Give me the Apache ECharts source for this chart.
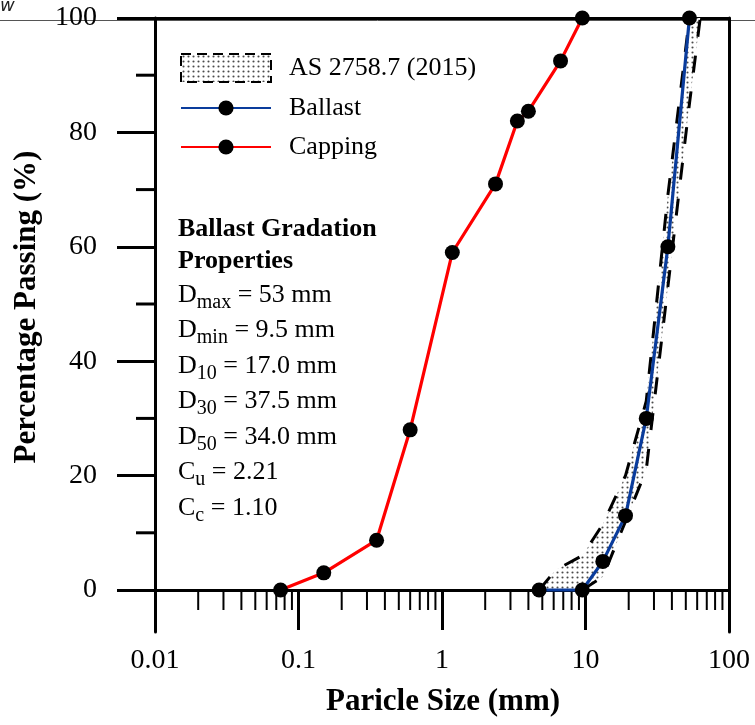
<!DOCTYPE html>
<html><head><meta charset="utf-8">
<script src="https://cdn.jsdelivr.net/npm/echarts@6/dist/echarts.min.js"></script>
<style>html,body{margin:0;padding:0;background:#fff}#c{width:755px;height:725px}</style>
</head><body><div id="c"></div>
<script>
// ---- data ----
const ballastSize = [4.75, 9.5, 13.2, 19.0, 26.5, 37.5, 53.0];
const ballastPass = [0, 0, 5, 13, 30, 60, 100];
const cappingSize = [0.075, 0.15, 0.35, 0.6, 1.18, 2.36, 3.35, 4.0, 6.7, 9.5];
const cappingPass = [0, 3, 8.7, 28, 59, 71, 82, 83.7, 92.5, 100];
const bandFineSize = [4.75, 6.2, 9.5, 13.2, 19.0, 26.5, 37.5, 53.0];
const bandFinePass = [0, 3.5, 6, 11.5, 20, 33, 69, 100];
const bandCoarseSize = [9.5, 13.2, 19.0, 26.5, 37.5, 53.0, 63.0];
const bandCoarsePass = [0, 2.3, 12, 21, 53, 85, 100];
const xTickLabels = ['0.01', '0.1', '1', '10', '100'];
const yMajorTicks = [0, 20, 40, 60, 80, 100];
const yMinorTicks = [10, 30, 50, 70, 90];
const xMinorTicks = [0.02, 0.03, 0.04, 0.05, 0.06, 0.07, 0.08, 0.09,
  0.2, 0.3, 0.4, 0.5, 0.6, 0.7, 0.8, 0.9,
  2, 3, 4, 5, 6, 7, 8, 9,
  20, 30, 40, 50, 60, 70, 80, 90];

const FONT = 'Liberation Serif';
const zip = (a, b) => a.map((v, i) => [v, b[i]]);

// dotted pattern
const pc = document.createElement('canvas');
pc.width = 5; pc.height = 5;
const pctx = pc.getContext('2d');
pctx.fillStyle = '#ffffff'; pctx.fillRect(0, 0, 5, 5);
pctx.fillStyle = '#4a4a4a';
pctx.beginPath(); pctx.arc(2.5, 2.5, 1.05, 0, Math.PI * 2); pctx.fill();
const dotPattern = { image: pc, repeat: 'repeat' };

const chart = echarts.init(document.getElementById('c'), null, { renderer: 'canvas' });

const yMin = -7.343;
const xMin = 0.01;
const axisBlack = { color: '#000', width: 3 };

const option = {
  animation: false,
  backgroundColor: '#fff',
  textStyle: { fontFamily: FONT },
  grid: { left: 155, right: 26, top: 18, bottom: 93, containLabel: false, outerBoundsMode: 'none' },
  xAxis: [
    {
      type: 'log', logBase: 10, min: xMin, max: 100, position: 'bottom',
      axisLine: { show: true, onZero: true, onZeroAxisIndex: 0, lineStyle: axisBlack },
      axisTick: { show: true, length: 40, inside: false, lineStyle: { color: '#000', width: 3 } },
      axisLabel: {
        show: true, margin: 15, color: '#000', fontFamily: FONT, fontSize: 28,
        showMinLabel: true, showMaxLabel: true, hideOverlap: false,
        formatter: (v, i) => xTickLabels[i] !== undefined ? xTickLabels[i] : String(v)
      },
      splitLine: { show: false }, minorTick: { show: false }
    },
    {
      type: 'log', logBase: 10, min: xMin, max: 100, position: 'top',
      axisLine: { show: true, onZero: false, lineStyle: axisBlack },
      axisTick: { show: false }, axisLabel: { show: false }, splitLine: { show: false }
    }
  ],
  yAxis: [
    {
      type: 'value', min: yMin, max: 100, position: 'left', offset: 0,
      axisLine: { show: true, onZero: false, lineStyle: axisBlack },
      axisTick: { show: true, length: 38, inside: false, customValues: yMajorTicks, lineStyle: { color: '#000', width: 3 } },
      axisLabel: { show: true, margin: 58, color: '#000', fontFamily: FONT, fontSize: 28, customValues: yMajorTicks },
      splitLine: { show: false }
    },
    {
      type: 'value', min: yMin, max: 100, position: 'right', offset: 0,
      axisLine: { show: true, onZero: false, lineStyle: axisBlack },
      axisTick: { show: false }, axisLabel: { show: false }, splitLine: { show: false }
    }
  ],
  legend: [
    {
      left: 180, top: 53, padding: 0, itemWidth: 90, itemHeight: 28, selectedMode: false,
      textStyle: { fontFamily: FONT, fontSize: 26, color: '#000', lineHeight: 26, padding: [0, 0, 0, 13] },
      data: [{
        name: 'AS 2758.7 (2015)', icon: 'rect',
        itemStyle: { color: dotPattern, borderColor: '#000', borderWidth: 2, borderType: [10, 6] }
      }]
    },
    {
      left: 180, top: 95, padding: 0, itemWidth: 90, itemHeight: 19, selectedMode: false,
      textStyle: { fontFamily: FONT, fontSize: 26, color: '#000', lineHeight: 26, padding: [0, 0, 0, 13] },
      data: ['Ballast']
    },
    {
      left: 180, top: 134, padding: 0, itemWidth: 90, itemHeight: 19, selectedMode: false,
      textStyle: { fontFamily: FONT, fontSize: 26, color: '#000', lineHeight: 26, padding: [0, 0, 0, 13] },
      data: ['Capping']
    }
  ],
  series: [
    {
      name: 'AS 2758.7 (2015)', type: 'custom', xAxisIndex: 0, yAxisIndex: 0, z: 1,
      itemStyle: { color: dotPattern, borderColor: '#000', borderWidth: 2, borderType: [10, 6] },
      data: [[bandFineSize[0], bandFinePass[0]]],
      renderItem: function (params, api) {
        const pts = [];
        for (let i = 0; i < bandFineSize.length; i++) pts.push(api.coord([bandFineSize[i], bandFinePass[i]]));
        for (let i = bandCoarseSize.length - 1; i >= 0; i--) pts.push(api.coord([bandCoarseSize[i], bandCoarsePass[i]]));
        return { type: 'polygon', shape: { points: pts }, style: { fill: dotPattern, stroke: null } };
      }
    },
    {
      name: 'AS fine limit', type: 'line', z: 2, symbol: 'none', clip: false,
      data: zip(bandFineSize, bandFinePass),
      lineStyle: { color: '#000', width: 3, type: [17, 19] }
    },
    {
      name: 'AS coarse limit', type: 'line', z: 2, symbol: 'none', clip: false,
      data: zip(bandCoarseSize, bandCoarsePass),
      lineStyle: { color: '#000', width: 3, type: [17, 19] }
    },
    {
      name: 'x minor ticks', type: 'custom', xAxisIndex: 0, yAxisIndex: 0, z: 3, clip: false,
      data: xMinorTicks.map(v => [v]),
      renderItem: function (params, api) {
        const p = api.coord([api.value(0), 0]);
        return { type: 'line', shape: { x1: p[0], y1: p[1], x2: p[0], y2: p[1] + 20 }, style: { stroke: '#000', lineWidth: 2 } };
      }
    },
    {
      name: 'y minor ticks', type: 'custom', xAxisIndex: 0, yAxisIndex: 0, z: 3, clip: false,
      data: yMinorTicks.map(v => [xMin, v]),
      renderItem: function (params, api) {
        const p = api.coord([xMin, api.value(1)]);
        return { type: 'line', shape: { x1: p[0], y1: p[1], x2: p[0] - 19, y2: p[1] }, style: { stroke: '#000', lineWidth: 3 } };
      }
    },
    {
      name: 'Ballast', type: 'line', z: 5, clip: false,
      data: zip(ballastSize, ballastPass),
      symbol: 'circle', symbolSize: 15,
      lineStyle: { color: '#0a3c9c', width: 3.2 },
      itemStyle: { color: '#000', borderWidth: 0 }
    },
    {
      name: 'Capping', type: 'line', z: 5, clip: false,
      data: zip(cappingSize, cappingPass),
      symbol: 'circle', symbolSize: 15,
      lineStyle: { color: '#ff0000', width: 3.2 },
      itemStyle: { color: '#000', borderWidth: 0 }
    }
  ],
  graphic: [
    { type: 'line', z: -1, shape: { x1: 0, y1: 20.5, x2: 755, y2: 20.5 }, style: { stroke: '#555', lineWidth: 1 } },
    { type: 'text', x: 0, y: 6, style: { text: 'w', font: 'italic 18px "DejaVu Sans"', fill: '#222', align: 'left', verticalAlign: 'middle' } },
    {
      type: 'text', x: 27, y: 307, rotation: Math.PI / 2,
      style: { text: 'Percentage Passing (%)', fontFamily: FONT, fontSize: 31, fontWeight: 'bold', fill: '#000', align: 'center', verticalAlign: 'middle' }
    },
    {
      type: 'text', x: 443, y: 702,
      style: { text: 'Paricle Size (mm)', fontFamily: FONT, fontSize: 31, fontWeight: 'bold', fill: '#000', align: 'center', verticalAlign: 'middle' }
    },
    {
      type: 'text', x: 178, y: 213, z: 10,
      style: {
        fontFamily: FONT, fill: '#000', align: 'left', verticalAlign: 'top',
        text: [
          '{h|Ballast Gradation}',
          '{h|Properties}',
          '{m|D}{s|max}{m| = 53 mm}',
          '{m|D}{s|min}{m| = 9.5 mm}',
          '{m|D}{s|10}{m| = 17.0 mm}',
          '{m|D}{s|30}{m| = 37.5 mm}',
          '{m|D}{s|50}{m| = 34.0 mm}',
          '{m|C}{s|u}{m| = 2.21}',
          '{m|C}{s|c}{m| = 1.10}'
        ].join('\n'),
        rich: {
          h: { fontFamily: FONT, fontSize: 26, fontWeight: 'bold', lineHeight: 32, fill: '#000' },
          m: { fontFamily: FONT, fontSize: 26, lineHeight: 35.5, fill: '#000' },
          s: { fontFamily: FONT, fontSize: 20, lineHeight: 20, verticalAlign: 'bottom', fill: '#000' }
        }
      }
    }
  ]
};
chart.setOption(option);
</script>
</body></html>
